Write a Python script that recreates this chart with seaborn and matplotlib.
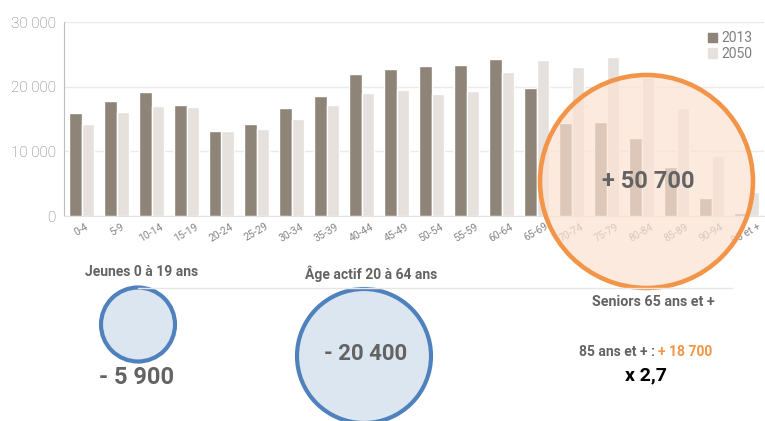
import pandas as pd
import matplotlib.pyplot as plt
import seaborn as sns
from matplotlib.patches import Circle, Patch

ages = ['0-4', '5-9', '10-14', '15-19', '20-24', '25-29', '30-34', '35-39',
        '40-44', '45-49', '50-54', '55-59', '60-64', '65-69', '70-74', '75-79',
        '80-84', '85-89', '90-94', '95 et +']
pop_2013 = [15900, 17800, 19100, 17200, 13200, 14200, 16650, 18500,
            21950, 22700, 23250, 23350, 24250, 19850, 14450, 14600,
            12100, 7650, 2800, 450]
pop_2050 = [14200, 16100, 17000, 16800, 13200, 13400, 15000, 17200,
            19000, 19500, 18850, 19300, 22250, 24150, 23050, 24650,
            21500, 16750, 9300, 3650]
years = ['2013', '2050']
y_ticks = [0, 10000, 20000, 30000]
y_labels = ['0', '10 000', '20 000', '30 000']

col_2013 = '#8E8478'
col_2050 = '#E6E1DD'
orange = '#F39548'
blue = '#4F81BD'
grey_txt = '#636363'


def main():
    sns.set_style('white')
    plt.rcParams['font.family'] = ['Roboto', 'DejaVu Sans']

    df = pd.DataFrame({
        'age': ages * 2,
        'value': pop_2013 + pop_2050,
        'year': [years[0]] * len(ages) + [years[1]] * len(ages),
    })

    fig = plt.figure(figsize=(7.65, 4.21), dpi=100)
    ax = fig.add_axes([64 / 765, 205 / 421, 700 / 765, 194 / 421])
    sns.barplot(data=df, x='age', y='value', hue='year', order=ages,
                palette=[col_2013, col_2050], width=0.72, gap=0,
                saturation=1, legend=False, ax=ax)
    ax.set_xlim(-0.5, len(ages) - 0.5)
    ax.set_ylim(0, 30000)
    ax.set_yticks(y_ticks)
    ax.set_yticklabels(y_labels, fontsize=11, color='#727272', fontweight='light')
    ax.set_xticks(range(len(ages)))
    ax.set_xticklabels(ages, rotation=30, fontsize=7.5, color='#858585',
                       ha='center')
    ax.tick_params(length=0, pad=4)
    ax.tick_params(axis='y', pad=6)
    ax.yaxis.grid(True, color='#EAEAEA', lw=1)
    ax.set_axisbelow(True)
    ax.set_xlabel('')
    ax.set_ylabel('')
    for s in ['top', 'right']:
        ax.spines[s].set_visible(False)
    ax.spines['left'].set_color('#BDBDBD')
    ax.spines['bottom'].set_color('#E3E3E3')

    handles = [Patch(color=col_2013, label='2013'), Patch(color=col_2050, label='2050')]
    fig.legend(handles=handles, loc='upper right', bbox_to_anchor=(1.0, 0.955),
               frameon=False, fontsize=10, handlelength=0.7, handleheight=0.7,
               handletextpad=0.3, labelspacing=0.1, labelcolor='#7F7F7F')

    # overlay in pixel coordinates for the bubbles and captions
    ov = fig.add_axes([0, 0, 1, 1])
    ov.set_xlim(0, 765)
    ov.set_ylim(421, 0)
    ov.axis('off')
    ov.patch.set_alpha(0)

    ov.plot([138, 732], [288, 288], color='#E6E6E6', lw=1)

    ov.add_patch(Circle((646.5, 181.5), 106.5, facecolor=(251/255, 226/255, 211/255, 0.72),
                        edgecolor=orange, lw=3.3))
    ov.add_patch(Circle((138, 324.5), 37, facecolor='#DCE6F1', edgecolor=blue, lw=3))
    ov.add_patch(Circle((364, 356), 67, facecolor='#DCE6F1', edgecolor=blue, lw=3))

    ov.text(648, 182, '+ 50 700', ha='center', va='center', fontsize=17,
            fontweight='bold', color=grey_txt)
    ov.text(366, 354, '- 20 400', ha='center', va='center', fontsize=16,
            fontweight='bold', color=grey_txt)
    ov.text(137, 377, '- 5 900', ha='center', va='center', fontsize=17,
            fontweight='bold', color=grey_txt)
    ov.text(142, 272, 'Jeunes 0 à 19 ans', ha='center', va='center', fontsize=10,
            fontweight='bold', color=grey_txt)
    ov.text(371, 274, 'Âge actif 20 à 64 ans', ha='center', va='center', fontsize=10,
            fontweight='bold', color=grey_txt)
    ov.text(653, 302, 'Seniors 65 ans et +', ha='center', va='center', fontsize=10.3,
            fontweight='bold', color=grey_txt)
    ov.text(655, 352, '85 ans et + :', ha='right', va='center', fontsize=10,
            fontweight='bold', color=grey_txt)
    ov.text(658, 352, '+ 18 700', ha='left', va='center', fontsize=10,
            fontweight='bold', color=orange)
    ov.text(646, 375, 'x 2,7', ha='center', va='center', fontsize=14,
            fontweight='bold', color='black')

    fig.savefig('out.png', dpi=100)
    plt.close(fig)


if __name__ == "__main__":
    main()
